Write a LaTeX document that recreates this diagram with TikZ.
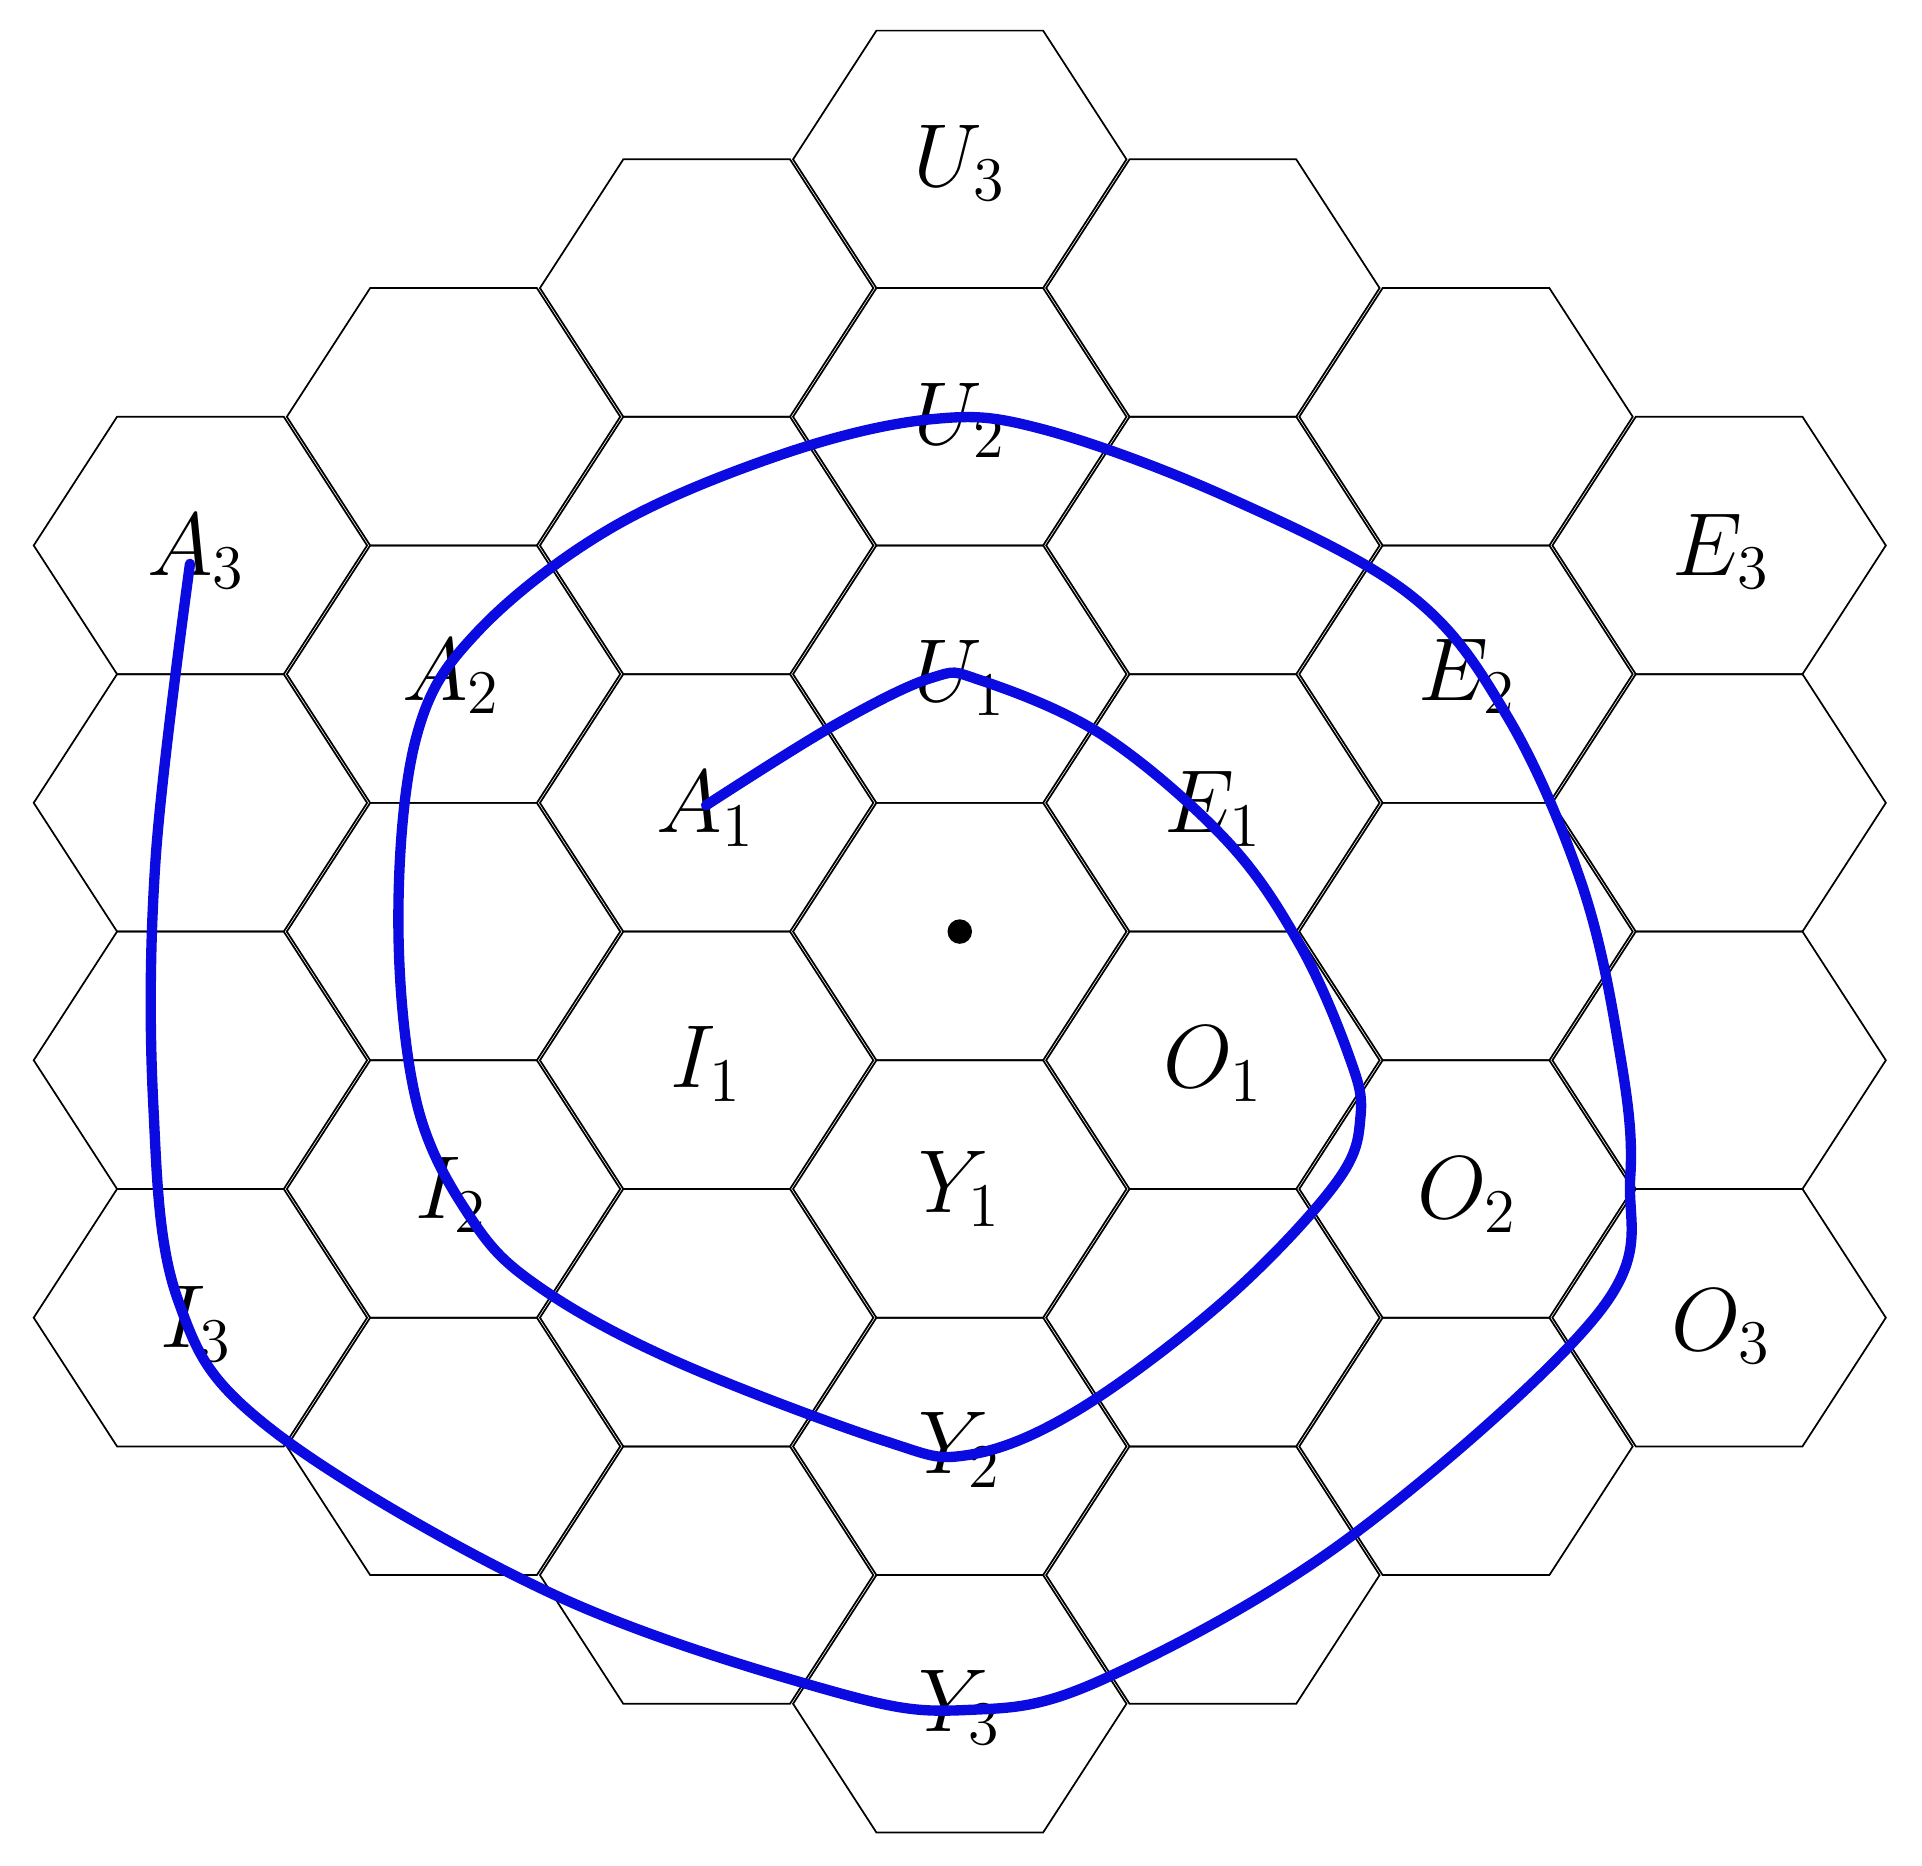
\documentclass[tikz,border=0pt]{standalone}
\begin{document}
\begin{tikzpicture}[x=0.01cm,y=-0.01cm,
  hexline/.style={draw=black,line width=0.4pt,line join=miter},
  lbl/.style={font=\fontsize{21}{24}\selectfont},
  spiral/.style={draw={rgb,255:red,10;green,10;blue,225},line width=2.4pt,line cap=round}]
\useasboundingbox (0,0) rectangle (1568,1522);
\foreach \c in {-3,...,3}{
  \pgfmathtruncatemacro{\lim}{6-abs(\c)}
  \foreach \m in {-6,...,6}{
    \pgfmathtruncatemacro{\ok}{(abs(\m)<=\lim) && (mod(abs(\m-\c),2)==0)}
    \ifnum\ok=1
      \pgfmathsetmacro{\cx}{783+206.5*\c}
      \pgfmathsetmacro{\cy}{760+105*\m}
      \draw[hexline] (\cx-136,\cy) -- (\cx-68,\cy-105) -- (\cx+68,\cy-105) -- (\cx+136,\cy) -- (\cx+68,\cy+105) -- (\cx-68,\cy+105) -- cycle;
    \fi
  }
}
\fill (783,760) circle (10);
\node[lbl] (U3) at (783,133) {$U_3$};
\node[lbl] (U2) at (783,343) {$U_2$};
\node[lbl] (U1) at (783,553) {$U_1$};
\node[lbl] (Y1) at (783,970) {$Y_1$};
\node[lbl] (Y2) at (783,1183) {$Y_2$};
\node[lbl] (Y3) at (783,1393) {$Y_3$};
\node[lbl] (A1) at (576,660) {$A_1$};
\node[lbl] (A2) at (368,552) {$A_2$};
\node[lbl] (A3) at (160,450) {$A_3$};
\node[lbl] (E1) at (990,660) {$E_1$};
\node[lbl] (E2) at (1197,552) {$E_2$};
\node[lbl] (E3) at (1404,450) {$E_3$};
\node[lbl] (I1) at (576,868) {$I_1$};
\node[lbl] (I2) at (368,975) {$I_2$};
\node[lbl] (I3) at (160,1080) {$I_3$};
\node[lbl] (O1) at (990,868) {$O_1$};
\node[lbl] (O2) at (1197,975) {$O_2$};
\node[lbl] (O3) at (1404,1082) {$O_3$};
\draw[spiral] plot[smooth,tension=0.6] coordinates {
 (576,657) (680,592) (760,553) (800,555) (900,600) (1000,685) (1060,770)
 (1100,860) (1110,910) (1090,965) (1000,1060) (880,1150) (790,1187) (720,1175)
 (550,1110) (440,1050) (385,995) (340,900) (325,750) (340,600) (390,515)
 (500,430) (640,370) (760,342) (850,350) (1000,405) (1150,485) (1230,585)
 (1290,720) (1320,850) (1330,960) (1305,1070) (1100,1255)
 (900,1370) (790,1395) (680,1380) (450,1300) (220,1165) (145,1060)
 (125,900) (127,700) (155,460)};
\end{tikzpicture}
\end{document}
